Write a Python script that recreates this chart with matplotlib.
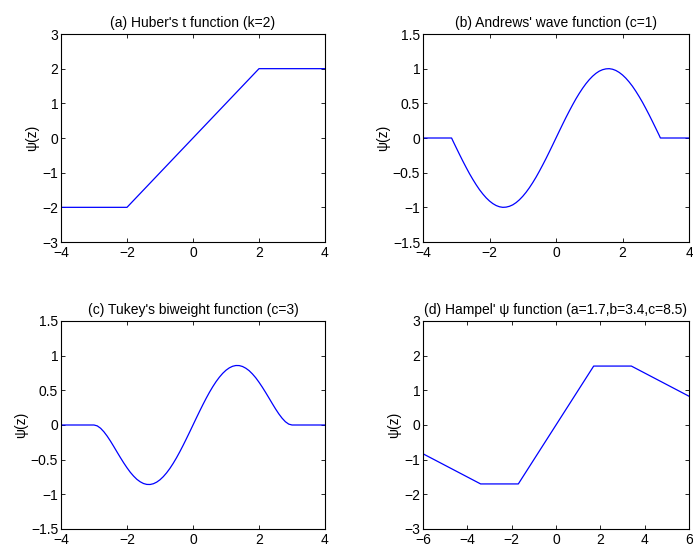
import matplotlib
matplotlib.use("Agg")
import matplotlib.pyplot as plt

plt.rcParams['font.family'] = ['Liberation Sans', 'DejaVu Sans']

# (a) Huber's t function, breakpoints
huber_z = [-4, -2, 2, 4]
huber_psi = [-2, -2, 2, 2]

# (b) Andrews' wave function, sampled values
andrews_z = [-4, -3.14, -3.1, -3.0, -2.9, -2.8, -2.7, -2.6, -2.5, -2.4, -2.3, -2.2,
             -2.1, -2.0, -1.9, -1.8, -1.7, -1.6, -1.5, -1.4, -1.3, -1.2, -1.1, -1.0,
             -0.9, -0.8, -0.7, -0.6, -0.5, -0.4, -0.3, -0.2, -0.1, 0.0,
             0.1, 0.2, 0.3, 0.4, 0.5, 0.6, 0.7, 0.8, 0.9, 1.0, 1.1, 1.2, 1.3, 1.4,
             1.5, 1.6, 1.7, 1.8, 1.9, 2.0, 2.1, 2.2, 2.3, 2.4, 2.5, 2.6, 2.7, 2.8,
             2.9, 3.0, 3.1, 3.14, 4]
andrews_psi = [0, 0, -0.042, -0.141, -0.239, -0.335, -0.427, -0.516, -0.598, -0.675,
               -0.746, -0.808, -0.863, -0.909, -0.946, -0.974, -0.992, -1.0, -0.997,
               -0.985, -0.964, -0.932, -0.891, -0.841, -0.783, -0.717, -0.644, -0.565,
               -0.479, -0.389, -0.296, -0.199, -0.1, 0.0,
               0.1, 0.199, 0.296, 0.389, 0.479, 0.565, 0.644, 0.717, 0.783, 0.841,
               0.891, 0.932, 0.964, 0.985, 0.997, 1.0, 0.992, 0.974, 0.946, 0.909,
               0.863, 0.808, 0.746, 0.675, 0.598, 0.516, 0.427, 0.335, 0.239, 0.141,
               0.042, 0, 0]

# (c) Tukey's biweight function, sampled values
tukey_z = [-4, -3.0, -2.9, -2.8, -2.7, -2.6, -2.5, -2.4, -2.3, -2.2, -2.1, -2.0,
           -1.9, -1.8, -1.7, -1.6, -1.5, -1.4, -1.3, -1.2, -1.1, -1.0, -0.9, -0.8,
           -0.7, -0.6, -0.5, -0.4, -0.3, -0.2, -0.1, 0.0,
           0.1, 0.2, 0.3, 0.4, 0.5, 0.6, 0.7, 0.8, 0.9, 1.0, 1.1, 1.2, 1.3, 1.4,
           1.5, 1.6, 1.7, 1.8, 1.9, 2.0, 2.1, 2.2, 2.3, 2.4, 2.5, 2.6, 2.7, 2.8,
           2.9, 3.0, 4]
tukey_psi = [0, 0, -0.013, -0.047, -0.098, -0.161, -0.233, -0.311, -0.391, -0.470,
             -0.546, -0.617, -0.682, -0.737, -0.784, -0.819, -0.844, -0.857, -0.858,
             -0.847, -0.824, -0.790, -0.745, -0.690, -0.626, -0.553, -0.473, -0.386,
             -0.294, -0.198, -0.1, 0.0,
             0.1, 0.198, 0.294, 0.386, 0.473, 0.553, 0.626, 0.690, 0.745, 0.790,
             0.824, 0.847, 0.858, 0.857, 0.844, 0.819, 0.784, 0.737, 0.682, 0.617,
             0.546, 0.470, 0.391, 0.311, 0.233, 0.161, 0.098, 0.047, 0.013, 0, 0]

# (d) Hampel's psi function, breakpoints
hampel_z = [-6, -3.4, -1.7, 1.7, 3.4, 6]
hampel_psi = [-0.83, -1.7, -1.7, 1.7, 1.7, 0.83]

panels = [
    ("(a) Huber's t function (k=2)", huber_z, huber_psi, (-4, 4), (-3, 3),
     [-4, -2, 0, 2, 4], [-3, -2, -1, 0, 1, 2, 3]),
    ("(b) Andrews' wave function (c=1)", andrews_z, andrews_psi, (-4, 4), (-1.5, 1.5),
     [-4, -2, 0, 2, 4], [-1.5, -1, -0.5, 0, 0.5, 1, 1.5]),
    ("(c) Tukey's biweight function (c=3)", tukey_z, tukey_psi, (-4, 4), (-1.5, 1.5),
     [-4, -2, 0, 2, 4], [-1.5, -1, -0.5, 0, 0.5, 1, 1.5]),
    ("(d) Hampel' \u03c8 function (a=1.7,b=3.4,c=8.5)", hampel_z, hampel_psi, (-6, 6), (-3, 3),
     [-6, -4, -2, 0, 2, 4, 6], [-3, -2, -1, 0, 1, 2, 3]),
]

W, H = 693, 552
boxes = [(61, 34, 325, 242), (423, 34, 689, 242),
         (61, 321, 325, 529), (423, 321, 689, 529)]

fig = plt.figure(figsize=(W / 100, H / 100), dpi=100)

def fmt(v):
    return ('%g' % v).replace('-', '\u2212')

for (title, z, psi, xl, yl, xt, yt), (x0, y0, x1, y1) in zip(panels, boxes):
    ax = fig.add_axes([x0 / W, 1 - y1 / H, (x1 - x0) / W, (y1 - y0) / H])
    ax.plot(z, psi, color='blue', linewidth=0.9)
    ax.set_xlim(*xl)
    ax.set_ylim(*yl)
    ax.set_xticks(xt)
    ax.set_yticks(yt)
    ax.set_xticklabels([fmt(v) for v in xt], fontsize=10)
    ax.set_yticklabels([fmt(v) for v in yt], fontsize=10)
    ax.tick_params(axis='x', direction='in', top=True, length=3, width=0.6, pad=3)
    ax.tick_params(axis='y', direction='in', right=True, length=3, width=0.6, pad=2)
    for sp in ax.spines.values():
        sp.set_linewidth(0.8)
    ax.set_title(title, fontsize=10, pad=5)
    ax.set_ylabel('\u03c8(z)', fontsize=10, labelpad=2)

fig.savefig('out.png', dpi=100)
